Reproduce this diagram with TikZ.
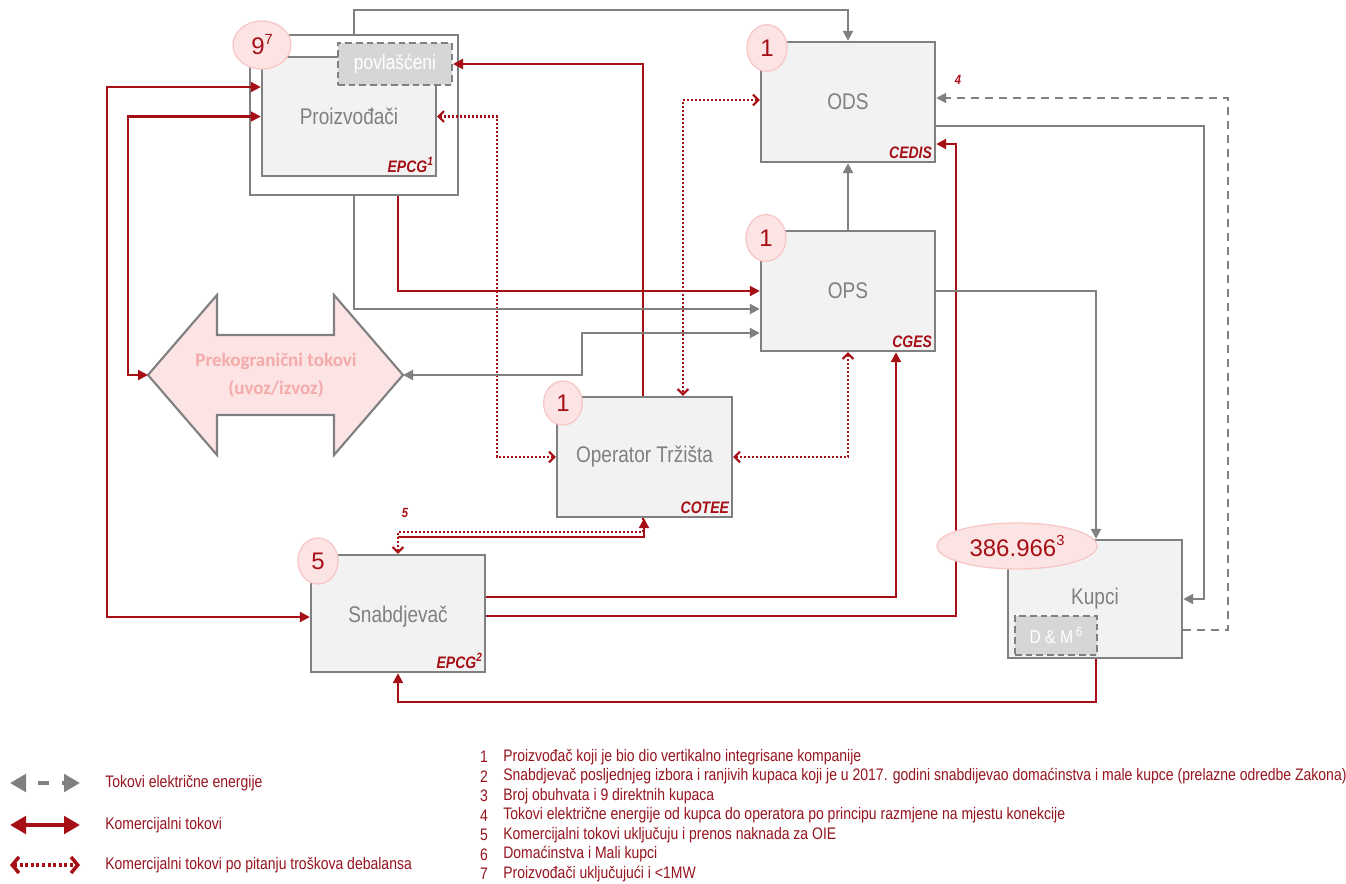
\documentclass[tikz,border=0pt]{standalone}
\usepackage{fontspec}
\setmainfont{Liberation Sans}[FakeStretch=0.84]
\newfontfamily\numfont{Liberation Sans}
\newfontfamily\calfont{Carlito}
\usetikzlibrary{arrows.meta,fit,shapes.geometric}
\definecolor{dred}{RGB}{165,15,21}
\definecolor{lgray}{RGB}{128,128,128}
\definecolor{boxfill}{RGB}{242,242,242}
\definecolor{pinkfill}{RGB}{253,228,228}
\definecolor{pinkline}{RGB}{248,200,200}
\definecolor{cbtext}{RGB}{245,170,170}
\definecolor{povfill}{RGB}{214,214,214}
\definecolor{legred}{RGB}{150,20,30}
\newcommand{\upnum}[2]{\raisebox{0.42em}{\fontsize{#1}{#1}\selectfont #2}}
\tikzset{
  boxst/.style={draw=lgray, line width=1.8pt, fill=boxfill, inner sep=0pt},
  lbl/.style={text=lgray, font=\fontsize{17}{20}\selectfont, inner sep=0pt},
  outerst/.style={draw=lgray, line width=1.8pt, fill=white, inner sep=0pt},
  subboxst/.style={draw=lgray, line width=1.5pt, dash pattern=on 5pt off 3pt, fill=povfill, inner sep=0pt},
  sublbl/.style={text=white, inner sep=0pt},
  sub/.style={text=dred, font=\fontsize{12.5}{14}\selectfont\itshape\bfseries, anchor=south east, inner sep=3pt},
  badge/.style={ellipse, fill=pinkfill, draw=pinkline, line width=1pt, text=dred, font=\numfont\fontsize{18}{20}\selectfont, inner sep=0pt},
  numlab/.style={text=dred, font=\fontsize{10}{12}\selectfont\itshape\bfseries},
  gline/.style={draw=lgray, line width=1.6pt},
  rline/.style={draw=dred, line width=1.6pt},
  dline/.style={draw=dred, line width=1.6pt, dash pattern=on 1.6pt off 1.4pt},
  dashline/.style={draw=lgray, line width=1.6pt, dash pattern=on 6pt off 4.5pt},
  Tri/.tip={Triangle[length=7.5pt,width=7.5pt]},
  Bb/.tip={Straight Barb[length=4pt,width=8pt]},
  legt/.style={text=legred, font=\fontsize{12.5}{14}\selectfont, anchor=west, inner sep=0pt},
  legn/.style={text=legred, font=\fontsize{12.5}{14}\selectfont, inner sep=0pt},
}
\begin{document}
\begin{tikzpicture}[x=0.75pt,y=-0.75pt]
\useasboundingbox (0,0) rectangle (1346,883);
\fill[white] (0,0) rectangle (1346,883);

% boxes
\node[outerst, fit={(250,35) (458,195)}] (prodOuter) {};
\node[boxst, fit={(262,57) (436,176)}] (prod) {};
\node[lbl] (prodL) at (prod.center) {Proizvođači};
\node[subboxst, fit={(338,43) (452,85)}] (povl) {};
\node[sublbl, font=\fontsize{15.5}{18}\selectfont] (povlL) at (povl.center) {povlašćeni};
\node[sub] (epcg1) at (prod.south east) {EPCG\upnum{9}{1}};

\node[boxst, fit={(761,42) (935,162)}] (ods) {};
\node[lbl] (odsL) at (ods.center) {ODS};
\node[sub] (cedis) at (ods.south east) {CEDIS};

\node[boxst, fit={(761,231) (935,351)}] (ops) {};
\node[lbl] (opsL) at (ops.center) {OPS};
\node[sub] (cges) at (ops.south east) {CGES};

\node[boxst, fit={(557,397) (732,517)}] (ot) {};
\node[lbl] (otL) at (ot.center) {Operator Tržišta};
\node[sub] (cotee) at (ot.south east) {COTEE};

\node[boxst, fit={(311,555) (485,672)}] (snab) {};
\node[lbl] (snabL) at ([yshift=-2pt]snab.center) {Snabdjevač};
\node[sub] (epcg2) at (snab.south east) {EPCG\upnum{9}{2}};

\node[boxst, fit={(1008,540) (1182,658)}] (kupci) {};
\node[lbl] (kupciL) at (kupci.center) {Kupci};
\node[subboxst, fit={(1015,616) (1097,655)}] (dm) {};
\node[sublbl, font=\fontsize{14}{16}\selectfont] (dmL) at (dm.center) {D \& M\,\upnum{10}{6}};

% cross-border double arrow
\draw[draw=lgray, line width=1.6pt, fill=pinkfill, line join=miter]
  (148,375) -- (217,295) -- (217,335) -- (334,335) -- (334,295) -- (403,375)
  -- (334,455) -- (334,415) -- (217,415) -- (217,455) -- cycle;
\coordinate (cbL) at (148,375);
\coordinate (cbR) at (403,375);
\node[text=cbtext, font=\calfont\bfseries\fontsize{14.3}{21}\selectfont, align=center] (cbT) at (276,375) {Prekogranični tokovi\\(uvoz/izvoz)};

% connectors
\draw[gline,-Tri] (prodOuter.north -| 354,0) -- (354,10) -| (ods.north);
\draw[rline,-Tri] (ot.north -| 643,0) |- (povl.east);
\draw[dline,{Bb}-{Bb}] (prod.east) -| (497,457) -- (ot.west);
\draw[dline,{Bb}-{Bb}] (ods.west |- 0,100) -| (ot.north -| 683,0);
\draw[dline,{Bb}-{Bb}] (ot.east) -| (ops.south);
\draw[rline,-Tri] (prodOuter.south -| 398,0) |- (ops.west);
\draw[gline,-Tri] (prodOuter.south -| 354,0) |- (ops.west |- 0,309);
\draw[gline,{Tri}-{Tri}] (cbR) -| (582,333) -- (ops.west |- 0,333);
\draw[rline,{Tri}-{Tri}] (prod.west |- 0,87) -| (107,617) -- (snab.west |- 0,617);
\draw[rline,{Tri}-{Tri}] (prod.west) -| (128,375) -- (cbL);
\draw[rline,-Tri] (snab.east |- 0,597) -| (ops.south -| 896,0);
\draw[rline,-Tri] (snab.east |- 0,616) -| (956,144) -- (ods.east |- 0,144);
\draw[rline,-Tri] (kupci.south -| 1096,0) -- (1096,702) -| (snab.south);
\draw[dline,-{Bb}] (ot.south -| 643,0) -- (643,532) -| (snab.north);
\draw[rline,-Tri] (snab.north |- 0,537) -| (ot.south -| 644,0);
\draw[gline,-Tri] (ods.east |- 0,126) -| (1204,599) -- (kupci.east);
\draw[gline,-Tri] (ops.east) -| (kupci.north -| 1096,0);
\draw[dashline,-Tri] (kupci.east |- 0,630) -| (1228,98) -- (ods.east |- 0,98);
\draw[gline,-Tri] (ops.north) -- (ods.south);

\node[numlab] (n4) at (958,80) {4};
\node[numlab] (n5) at (405,513) {5};

% badges
\node[badge, minimum width=43.5pt, minimum height=36pt] (b1) at (262,45) {9\upnum{11}{7}};
\node[badge, minimum width=30pt, minimum height=35pt] (b2) at (767,48) {1};
\node[badge, minimum width=30pt, minimum height=35pt] (b3) at (766,238) {1};
\node[badge, minimum width=29pt, minimum height=33pt] (b4) at (563,403) {1};
\node[badge, minimum width=30pt, minimum height=34.5pt] (b5) at (318,561) {5};
\node[badge, minimum width=120pt, minimum height=34.5pt] (b6) at (1017,546) {386.966\upnum{11}{3}};

% legend left
\coordinate (l1a) at (10,783); \coordinate (l1b) at (80,783);
\coordinate (l2a) at (10,825); \coordinate (l2b) at (80,825);
\coordinate (l3a) at (10,865); \coordinate (l3b) at (80,865);
\draw[lgray, line width=3.5pt, dash pattern=on 8pt off 10pt, dash phase=8pt, {Triangle[length=12pt,width=13pt]}-{Triangle[length=12pt,width=13pt]}] (l1a) -- (l1b);
\draw[dred, line width=3.5pt, {Triangle[length=12pt,width=13pt]}-{Triangle[length=12pt,width=13pt]}] (l2a) -- (l2b);
\draw[dred, line width=2.6pt, dash pattern=on 2.2pt off 2pt, {Straight Barb[length=5pt,width=12pt]}-{Straight Barb[length=5pt,width=12pt]}] (l3a) -- (l3b);
\node[legt] (lt1) at (105,783) {Tokovi električne energije};
\node[legt] (lt2) at (105,825) {Komercijalni tokovi};
\node[legt] (lt3) at (105,865) {Komercijalni tokovi po pitanju troškova debalansa};

% legend right
\node[legn] (ln1) at (484,757) {1};
\node[legn] (ln2) at (484,776.5) {2};
\node[legn] (ln3) at (484,796) {3};
\node[legn] (ln4) at (484,815.5) {4};
\node[legn] (ln5) at (484,835) {5};
\node[legn] (ln6) at (484,854.5) {6};
\node[legn] (ln7) at (484,874) {7};
\node[legt] (lr1) at (503,757) {Proizvođač koji je bio dio vertikalno integrisane kompanije};
\node[legt] (lr2) at (503,776.5) {Snabdjevač posljednjeg izbora i ranjivih kupaca koji je u 2017. godini snabdijevao domaćinstva i male kupce (prelazne odredbe Zakona)};
\node[legt] (lr3) at (503,796) {Broj obuhvata i 9 direktnih kupaca};
\node[legt] (lr4) at (503,815.5) {Tokovi električne energije od kupca do operatora po principu razmjene na mjestu konekcije};
\node[legt] (lr5) at (503,835) {Komercijalni tokovi uključuju i prenos naknada za OIE};
\node[legt] (lr6) at (503,854.5) {Domaćinstva i Mali kupci};
\node[legt] (lr7) at (503,874) {Proizvođači uključujući i <1MW};
\end{tikzpicture}
\end{document}
